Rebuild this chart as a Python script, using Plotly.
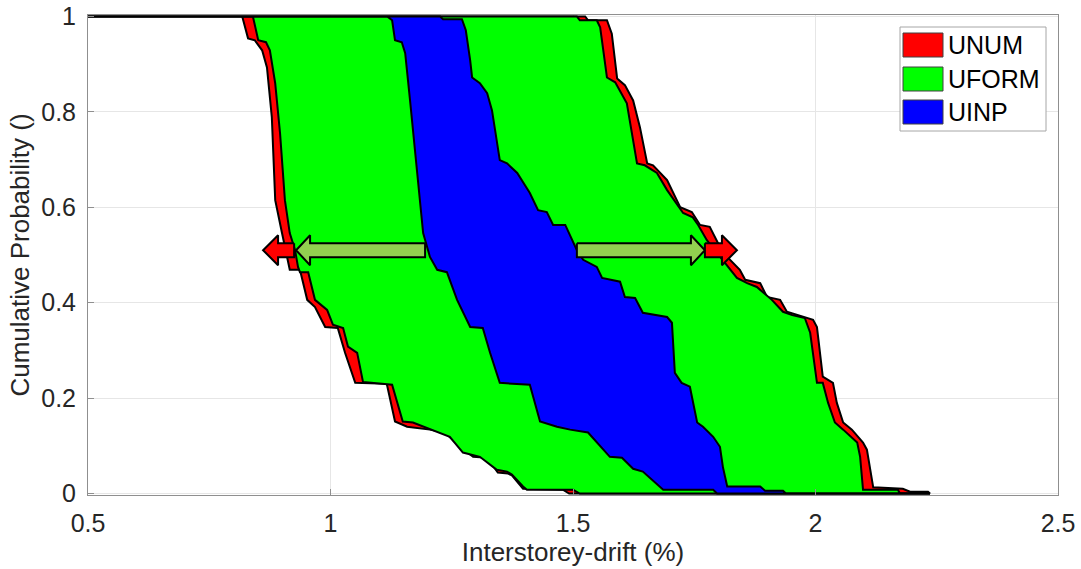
import plotly.graph_objects as go

# Exceedance curves: interstorey drift (%) vs cumulative probability.
# Each band is bounded by a lower (left) and an upper (right) curve.
unum_lo_x = [0.5, 0.818, 0.830, 0.844, 0.859, 0.869, 0.879, 0.886, 0.900, 0.912, 0.916, 0.937,
             0.952, 0.968, 0.989, 1.015, 1.030, 1.051, 1.116, 1.133, 1.158, 1.205, 1.236, 1.267,
             1.294, 1.323, 1.345, 1.366, 1.374, 1.397, 1.479, 1.492, 2.236]
unum_lo_y = [1.0, 1.0, 0.954, 0.950, 0.929, 0.893, 0.789, 0.615, 0.546, 0.483, 0.469, 0.469,
             0.406, 0.391, 0.349, 0.347, 0.295, 0.232, 0.230, 0.151, 0.140, 0.134, 0.128, 0.098,
             0.077, 0.075, 0.044, 0.042, 0.038, 0.010, 0.008, 0.0, 0.0]

uform_lo_x = [0.5, 0.840, 0.851, 0.867, 0.875, 0.886, 0.896, 0.906, 0.916, 0.927, 0.933, 0.937,
              0.954, 0.968, 0.993, 1.005, 1.026, 1.036, 1.055, 1.067, 1.127, 1.149, 1.170, 1.220,
              1.246, 1.273, 1.308, 1.335, 1.343, 1.364, 1.374, 1.397, 1.405, 1.500, 1.514, 2.236]
uform_lo_y = [1.0, 1.0, 0.950, 0.946, 0.929, 0.860, 0.755, 0.615, 0.546, 0.510, 0.475, 0.464,
              0.464, 0.406, 0.385, 0.354, 0.347, 0.308, 0.295, 0.234, 0.228, 0.151, 0.149, 0.130,
              0.119, 0.086, 0.077, 0.056, 0.050, 0.046, 0.040, 0.015, 0.008, 0.008, 0.0, 0.0]

uinp_lo_x = [0.5, 1.117, 1.127, 1.133, 1.147, 1.154, 1.164, 1.174, 1.185, 1.191, 1.205, 1.220,
             1.240, 1.261, 1.288, 1.314, 1.329, 1.349, 1.411, 1.432, 1.467, 1.494, 1.531, 1.576,
             1.601, 1.624, 1.644, 1.679, 1.686, 1.789, 1.797, 2.236]
uinp_lo_y = [1.0, 1.0, 0.992, 0.950, 0.946, 0.923, 0.824, 0.720, 0.615, 0.546, 0.496, 0.469,
             0.464, 0.406, 0.349, 0.347, 0.295, 0.232, 0.228, 0.151, 0.140, 0.134, 0.128, 0.077,
             0.075, 0.052, 0.046, 0.015, 0.008, 0.008, 0.0, 0.0]

uinp_hi_x = [0.5, 1.226, 1.232, 1.271, 1.279, 1.288, 1.292, 1.308, 1.323, 1.333, 1.349, 1.364,
             1.385, 1.411, 1.428, 1.446, 1.459, 1.484, 1.508, 1.521, 1.549, 1.560, 1.597, 1.607,
             1.628, 1.644, 1.694, 1.704, 1.710, 1.724, 1.741, 1.756, 1.768, 1.789, 1.803, 1.809,
             1.818, 1.886, 1.896, 1.933, 1.939, 2.236]
uinp_hi_y = [1.0, 1.0, 0.994, 0.994, 0.971, 0.908, 0.872, 0.860, 0.839, 0.803, 0.699, 0.692,
             0.672, 0.630, 0.594, 0.590, 0.563, 0.563, 0.510, 0.490, 0.475, 0.452, 0.444, 0.412,
             0.410, 0.379, 0.370, 0.358, 0.253, 0.232, 0.224, 0.149, 0.140, 0.119, 0.098, 0.056,
             0.015, 0.015, 0.006, 0.006, 0.0, 0.0]

uform_hi_x = [0.5, 1.508, 1.514, 1.549, 1.556, 1.570, 1.587, 1.611, 1.624, 1.632, 1.648, 1.673,
              1.694, 1.700, 1.727, 1.747, 1.758, 1.776, 1.813, 1.838, 1.859, 1.879, 1.910, 1.933,
              1.952, 1.978, 1.989, 1.999, 2.003, 2.015, 2.026, 2.040, 2.057, 2.086, 2.092, 2.098,
              2.170, 2.174, 2.236]
uform_hi_y = [1.0, 1.0, 0.992, 0.992, 0.977, 0.872, 0.862, 0.818, 0.741, 0.692, 0.688, 0.672,
              0.636, 0.626, 0.588, 0.579, 0.563, 0.531, 0.483, 0.452, 0.441, 0.433, 0.406, 0.381,
              0.374, 0.368, 0.337, 0.259, 0.232, 0.232, 0.190, 0.149, 0.134, 0.107, 0.077, 0.008,
              0.008, 0.0, 0.0]

unum_hi_x = [0.5, 1.525, 1.531, 1.570, 1.580, 1.591, 1.607, 1.624, 1.638, 1.653, 1.665, 1.694,
             1.721, 1.745, 1.762, 1.782, 1.803, 1.820, 1.844, 1.855, 1.886, 1.900, 1.927, 1.941,
             1.962, 1.995, 2.003, 2.015, 2.036, 2.044, 2.057, 2.075, 2.098, 2.106, 2.119, 2.180,
             2.195, 2.232, 2.236]
unum_hi_y = [1.0, 1.0, 0.992, 0.992, 0.964, 0.870, 0.856, 0.824, 0.768, 0.692, 0.688, 0.657,
             0.600, 0.590, 0.563, 0.559, 0.517, 0.494, 0.469, 0.448, 0.441, 0.412, 0.406, 0.381,
             0.374, 0.364, 0.349, 0.245, 0.232, 0.190, 0.149, 0.134, 0.107, 0.092, 0.013, 0.010,
             0.004, 0.004, 0.0]

band_names = ["UNUM", "UFORM", "UINP"]
band_colors = ["#ff0000", "#00ff00", "#0000ff"]

# Arrows at the median level: (tail, tip) in drift %
arrow_level = 0.51
green_arrows = [(1.195, 0.929), (1.508, 1.772)]
red_arrows = [(0.925, 0.861), (1.772, 1.838)]

x_ticks = [0.5, 1, 1.5, 2, 2.5]
x_ticklabels = ["0.5", "1", "1.5", "2", "2.5"]
y_ticks = [0, 0.2, 0.4, 0.6, 0.8, 1]
y_ticklabels = ["0", "0.2", "0.4", "0.6", "0.8", "1"]

# ---- layout geometry ----
W, H = 1081, 569
ML, MR, MT, MB = 88, 23, 15, 74
X_RANGE = [0.5, 2.5]
# a hair of padding so the band outlines on y=0 and y=1 are not clipped
Y_RANGE = [-0.003, 1.003]
PW, PH = W - ML - MR, H - MT - MB
px_per_x = PW / (X_RANGE[1] - X_RANGE[0])
px_per_y = PH / (Y_RANGE[1] - Y_RANGE[0])

FONT = "Liberation Sans, Arial, sans-serif"
TXT = "#262626"

fig = go.Figure()

bands = [
    (unum_lo_x, unum_lo_y, unum_hi_x, unum_hi_y),
    (uform_lo_x, uform_lo_y, uform_hi_x, uform_hi_y),
    (uinp_lo_x, uinp_lo_y, uinp_hi_x, uinp_hi_y),
]
for (lx, ly, hx, hy), name, col in zip(bands, band_names, band_colors):
    xs = list(lx) + list(hx)[::-1]
    ys = list(ly) + list(hy)[::-1]
    fig.add_trace(go.Scatter(
        x=xs, y=ys, mode="lines", fill="toself", fillcolor=col,
        line=dict(color="black", width=2), name=name,
        showlegend=False, hoverinfo="skip",
    ))


def arrow_outline(tail, tip, y, shaft_px=7, head_px=15, headlen_px=14):
    d = 1 if tip > tail else -1
    hs = shaft_px / px_per_y
    hh = head_px / px_per_y
    base = tip - d * headlen_px / px_per_x
    xs = [tail, base, base, tip, base, base, tail, tail]
    ys = [y + hs, y + hs, y + hh, y, y - hh, y - hs, y - hs, y + hs]
    return xs, ys


for arrows, col, hl in [(green_arrows, "#92d050", 14), (red_arrows, "#ff0000", 15)]:
    for tail, tip in arrows:
        ax, ay = arrow_outline(tail, tip, arrow_level, headlen_px=hl)
        fig.add_trace(go.Scatter(
            x=ax, y=ay, mode="lines", fill="toself", fillcolor=col,
            line=dict(color="black", width=2), showlegend=False, hoverinfo="skip",
        ))


# ---- legend box drawn in pixel positions ----
def fx(px):
    return (px - ML) / PW


def fy(py):
    return (H - MB - py) / PH


shapes = [dict(type="rect", xref="paper", yref="paper",
               x0=fx(900), x1=fx(1046), y0=fy(131), y1=fy(27),
               line=dict(color="#a6a6a6", width=1), fillcolor="white", layer="above")]
annotations = []
rows = [(33, 57), (67, 91), (100, 124)]
for (top, bot), name, col in zip(rows, band_names, band_colors):
    shapes.append(dict(type="rect", xref="paper", yref="paper",
                       x0=fx(903), x1=fx(943), y0=fy(bot), y1=fy(top),
                       line=dict(color="#404040", width=1), fillcolor=col, layer="above"))
    annotations.append(dict(xref="paper", yref="paper", x=fx(946), y=fy((top + bot) / 2),
                            text=name, showarrow=False, xanchor="left", yanchor="middle",
                            font=dict(family=FONT, size=25, color="black")))

axis_common = dict(
    showline=True, mirror=True, linecolor="#8f8f8f", linewidth=1,
    ticks="inside", ticklen=6, tickcolor="#8f8f8f",
    showgrid=True, gridcolor="#e6e6e6", gridwidth=1, zeroline=False,
    tickfont=dict(family=FONT, size=25, color=TXT),
)

fig.update_layout(
    width=W, height=H,
    margin=dict(l=ML, r=MR, t=MT, b=MB, autoexpand=False),
    paper_bgcolor="white", plot_bgcolor="white",
    shapes=shapes, annotations=annotations,
    xaxis=dict(range=X_RANGE, tickvals=x_ticks, ticktext=x_ticklabels,
               ticklabelstandoff=6,
               title=dict(text="Interstorey-drift (%)", standoff=6,
                          font=dict(family=FONT, size=26, color=TXT)),
               **axis_common),
    yaxis=dict(range=Y_RANGE, tickvals=y_ticks, ticktext=y_ticklabels,
               ticklabelstandoff=6,
               title=dict(text="Cumulative Probability ()", standoff=4,
                          font=dict(family=FONT, size=26, color=TXT)),
               **axis_common),
)

fig.write_html("out.html")
